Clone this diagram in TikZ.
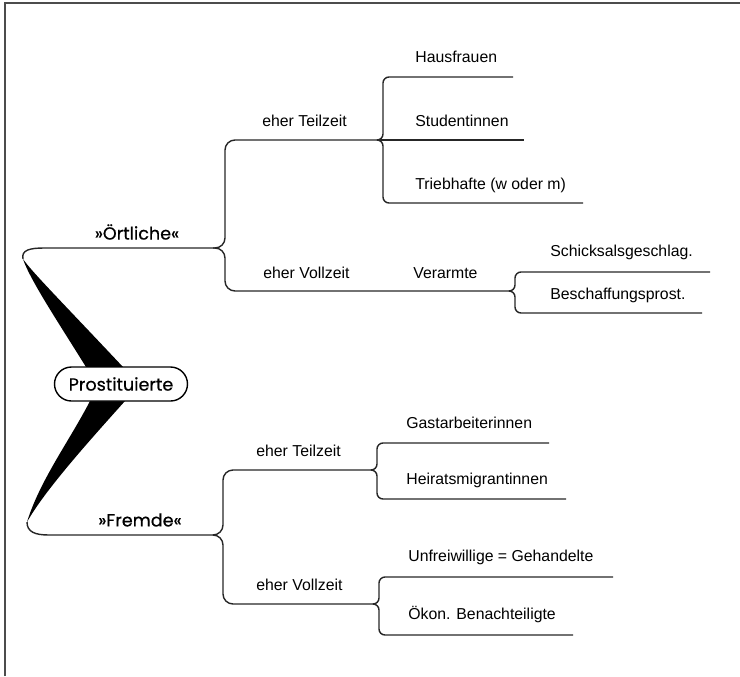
\documentclass[tikz,border=0pt]{standalone}
\usepackage{fontspec}
\setmainfont{Liberation Sans}
\newfontfamily\geofont[FakeBold=0.6]{Poppins}
\tikzset{
  twig/.style={line width=0.8pt, draw=black!85, rounded corners=1.2mm},
  bough/.style={twig, rounded corners=2mm},
  leaf/.style={anchor=west, inner sep=0pt, font=\fontsize{9}{11}\selectfont},
  limb/.style={inner sep=0pt, font=\geofont\fontsize{10}{12}\selectfont},
  hub/.style={draw, line width=0.8pt, rounded corners=3.4mm, minimum width=26.6mm,
    minimum height=6.8mm, inner sep=0pt, font=\geofont\fontsize{10}{12}\selectfont},
}
\begin{document}
\begin{tikzpicture}[x=0.2mm,y=-0.2mm]
\useasboundingbox (0,0) rectangle (740,676);
\draw[line width=0.7pt, black!70] (5,676) -- (5,3) -- (740,3);

\coordinate (otip) at (23,259);
\coordinate (ftip) at (27,522);
\coordinate (obl) at (86,367);
\coordinate (obr) at (123,367);
\coordinate (fbl) at (90,401);
\coordinate (fbr) at (125,401);
\coordinate (oj) at (213,248);
\coordinate (fj) at (213,535);
\coordinate (otzj) at (377,140);
\coordinate (ovzj) at (510,291);
\coordinate (ftzj) at (373,470);
\coordinate (fvzj) at (375,604);
\coordinate (hause) at (513,77);
\coordinate (stude) at (524,140);
\coordinate (triee) at (583,203);
\coordinate (schie) at (710,272);
\coordinate (besche) at (702,313);
\coordinate (gaste) at (549,443);
\coordinate (heire) at (566,499);
\coordinate (unfre) at (613,577);
\coordinate (oekoe) at (573,635);

\fill[black] (otip) .. controls (32,272) and (60,300) .. (obr)
  -- (obl) .. controls (60,325) and (30,280) .. (otip);
\fill[black] (ftip) .. controls (40,480) and (70,440) .. (fbl)
  -- (fbr) .. controls (90,440) and (45,490) .. (ftip);

\node[hub, fill=white] (pros) at (121,384) {Prostituierte};
\node[limb] (oert) at (137,232) {»Örtliche«};
\node[limb] (frem) at (140,520) {»Fremde«};

\node[leaf] (otz) at (262,121) {eher Teilzeit};
\node[leaf] (ovz) at (263,273) {eher Vollzeit};
\node[leaf] (verm) at (413,273) {Verarmte};
\node[leaf] (haus) at (415,57) {Hausfrauen};
\node[leaf] (stud) at (415,121) {Studentinnen};
\node[leaf] (trie) at (415,185) {Triebhafte (w oder m)};
\node[leaf] (schi) at (550,252) {Schicksalsgeschlag.};
\node[leaf] (besch) at (550,295) {Beschaffungsprost.};
\node[leaf] (ftz) at (256,451) {eher Teilzeit};
\node[leaf] (fvz) at (256,585) {eher Vollzeit};
\node[leaf] (gast) at (406,423) {Gastarbeiterinnen};
\node[leaf] (heir) at (406,480) {Heiratsmigrantinnen};
\node[leaf] (unfr) at (408,557) {Unfreiwillige = Gehandelte};
\node[leaf] (oeko) at (408,615) {Ökon. Benachteiligte};

\draw[twig] (otip) .. controls (21,250) and (30,248) .. (50,248) -- (oj);
\draw[twig] (ftip) .. controls (27,532) and (35,535) .. (55,535) -- (fj);

\draw[bough] (oj) -- ++(12,0) |- (otzj);
\draw[bough] (oj) -- ++(12,0) |- (ovzj);
\draw[bough] (fj) -- ++(10,0) |- (ftzj);
\draw[bough] (fj) -- ++(10,0) |- (fvzj);
\draw[twig] (otzj) -- ++(6,0) |- (hause);
\draw[twig] (otzj) -- (stude);
\draw[twig] (otzj) -- ++(6,0) |- (triee);
\draw[twig] (ovzj) -- ++(5,0) |- (schie);
\draw[twig] (ovzj) -- ++(5,0) |- (besche);
\draw[twig] (ftzj) -- ++(4,0) |- (gaste);
\draw[twig] (ftzj) -- ++(4,0) |- (heire);
\draw[twig] (fvzj) -- ++(4,0) |- (unfre);
\draw[twig] (fvzj) -- ++(4,0) |- (oekoe);
\end{tikzpicture}
\end{document}
